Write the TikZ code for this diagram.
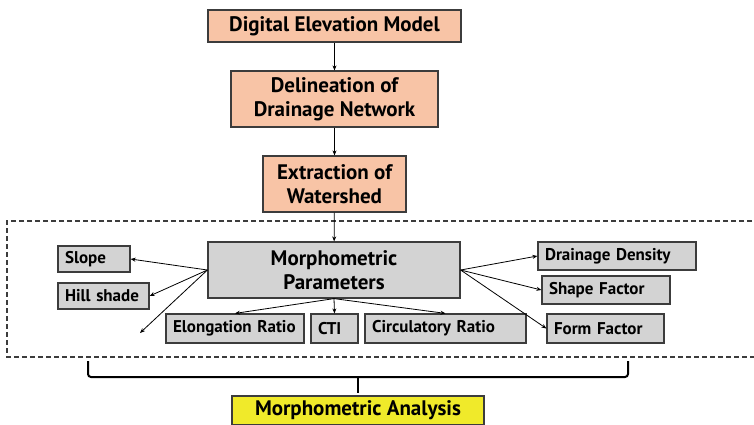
\documentclass[tikz,border=0pt]{standalone}
\usepackage{fontspec}
\setmainfont{PT Sans}
\usetikzlibrary{arrows.meta}
\definecolor{peach}{RGB}{248,196,166}
\definecolor{boxgray}{RGB}{211,211,211}
\definecolor{yel}{RGB}{240,234,42}
\definecolor{edge}{RGB}{60,60,60}
\tikzset{
  bigbox/.style={draw=edge, line width=1.2pt, align=center, inner sep=0pt,
    font=\fontsize{21}{24}\selectfont\bfseries, text=black},
  flowbox/.style={bigbox, fill=peach},
  parbox/.style={bigbox, fill=boxgray},
  anabox/.style={bigbox, fill=yel},
  smallbox/.style={draw=edge, line width=1.2pt, fill=boxgray, align=left,
    inner xsep=7pt, inner ysep=0pt, font=\fontsize{17}{19}\selectfont\bfseries},
  conn/.style={draw=black, line width=0.8pt, -{Stealth[length=5pt,width=4pt]}},
  brace/.style={draw=black, line width=2pt, rounded corners=3pt},
}
\begin{document}
\begin{tikzpicture}[x=1pt,y=-1pt]
\useasboundingbox (0,0) rectangle (754,424);
\clip (0,0) rectangle (754,424);
% dashed frame
\draw[edge, line width=1.4pt, dash pattern=on 5pt off 3pt] (760,221) -- (7,221) -- (7,357) -- (760,357);

\node[flowbox, minimum width=253pt, minimum height=32pt] (dem) at (334.5,26) {Digital Elevation Model};
\node[flowbox, minimum width=207pt, minimum height=56pt] (del) at (334.5,99) {Delineation of\\Drainage Network};
\node[flowbox, minimum width=143pt, minimum height=56pt] (ext) at (334.5,184) {Extraction of\\Watershed};
\node[parbox, minimum width=252pt, minimum height=56pt] (mp) at (334,270) {Morphometric\\Parameters};

\node[smallbox, text width=58pt, minimum height=26pt] (slope) at (94,259) {Slope};
\node[smallbox, text width=77pt, minimum height=26pt] (hill) at (103.5,296) {Hill shade};
\node[smallbox, text width=124pt, minimum height=29pt] (elong) at (235,328.5) {Elongation Ratio};
\node[smallbox, text width=33pt, minimum height=29pt] (cti) at (334.5,328.5) {CTI};
\node[smallbox, text width=147pt, minimum height=29pt] (circ) at (445.5,328.5) {Circulatory Ratio};
\node[smallbox, text width=144pt, minimum height=28pt] (dd) at (617,256) {Drainage Density};
\node[smallbox, text width=114pt, minimum height=28pt] (sf) at (606,290) {Shape Factor};
\node[smallbox, text width=103pt, minimum height=29pt] (ff) at (605.5,328.5) {Form Factor};

\node[anabox, minimum width=252pt, minimum height=29pt] (ma) at (358,410.5) {Morphometric Analysis};

\coordinate (free) at (140,333);

\draw[conn] (dem) -- (del);
\draw[conn] (del) -- (ext);
\draw[conn] (ext) -- (mp);

\draw[conn] (mp.west) -- (slope.east);
\draw[conn] (mp.west) -- (hill.east);
\draw[conn] (mp.west) -- (free);
\draw[conn] (mp.south) -- (elong.north);
\draw[conn] (mp.south) -- (cti.north);
\draw[conn] (mp.south) -- (circ.north);
\draw[conn] (mp.east) -- (dd.west);
\draw[conn] (mp.east) -- (sf.west);
\draw[conn] (mp.east) -- (ff.west);

% brace
\coordinate (bl) at (88,361);
\coordinate (br) at (628,361);
\coordinate (bm) at (358,377);
\draw[brace] (bl) -- (88,377) -- (628,377) -- (br);
\draw[black, line width=2pt] (bm) -- (358,393);
\end{tikzpicture}
\end{document}
